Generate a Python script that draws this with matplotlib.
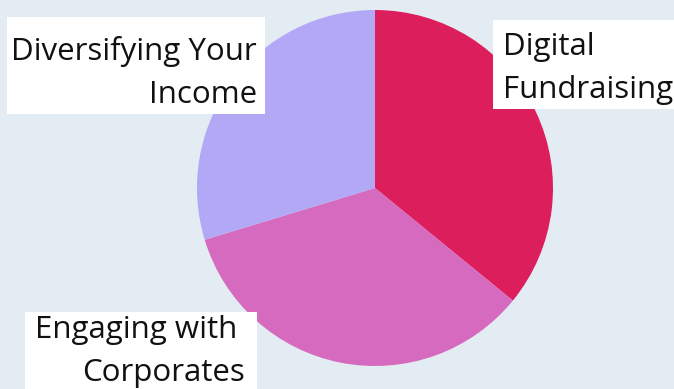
import matplotlib.pyplot as plt
from matplotlib.patches import Rectangle

# Share of each topic
labels = ['Digital\nFundraising', 'Engaging with \nCorporates', 'Diversifying Your\nIncome']
values = [35.9, 34.4, 29.7]
colors = ['#DC1E5C', '#D66ABE', '#B2A8F5']

W, H = 674, 389
fig = plt.figure(figsize=(W / 100, H / 100), dpi=100)
fig.patch.set_facecolor('#E3EBF3')

# axes spans the whole figure, data units = pixels
ax = fig.add_axes([0, 0, 1, 1])
ax.pie(values, colors=colors, center=(375, H - 188), radius=178,
       startangle=90, counterclock=False, frame=True,
       wedgeprops=dict(linewidth=0))
ax.set_xlim(0, W)
ax.set_ylim(0, H)
ax.set_aspect('equal')
ax.axis('off')

font = dict(family='Open Sans', fontsize=22.5, color='#111111', linespacing=1.56)

# white label boxes (x, y, w, h in pixels from the bottom-left)
boxes = [(493, H - 109, 190, 89), (25, 0, 232, 77), (7, H - 114, 258, 97)]
for (x, y, w, h) in boxes:
    ax.add_patch(Rectangle((x, y), w, h, facecolor='white', edgecolor='none', zorder=3))

# va='baseline' puts the last line's baseline at y
ax.text(503, H - 98, labels[0], ha='left', va='baseline', multialignment='left', zorder=4, **font)
ax.text(245, H - 381, labels[1], ha='right', va='baseline', multialignment='right', zorder=4, **font)
ax.text(257, H - 103, labels[2], ha='right', va='baseline', multialignment='right', zorder=4, **font)

fig.savefig('out.png', dpi=100, facecolor=fig.get_facecolor())
